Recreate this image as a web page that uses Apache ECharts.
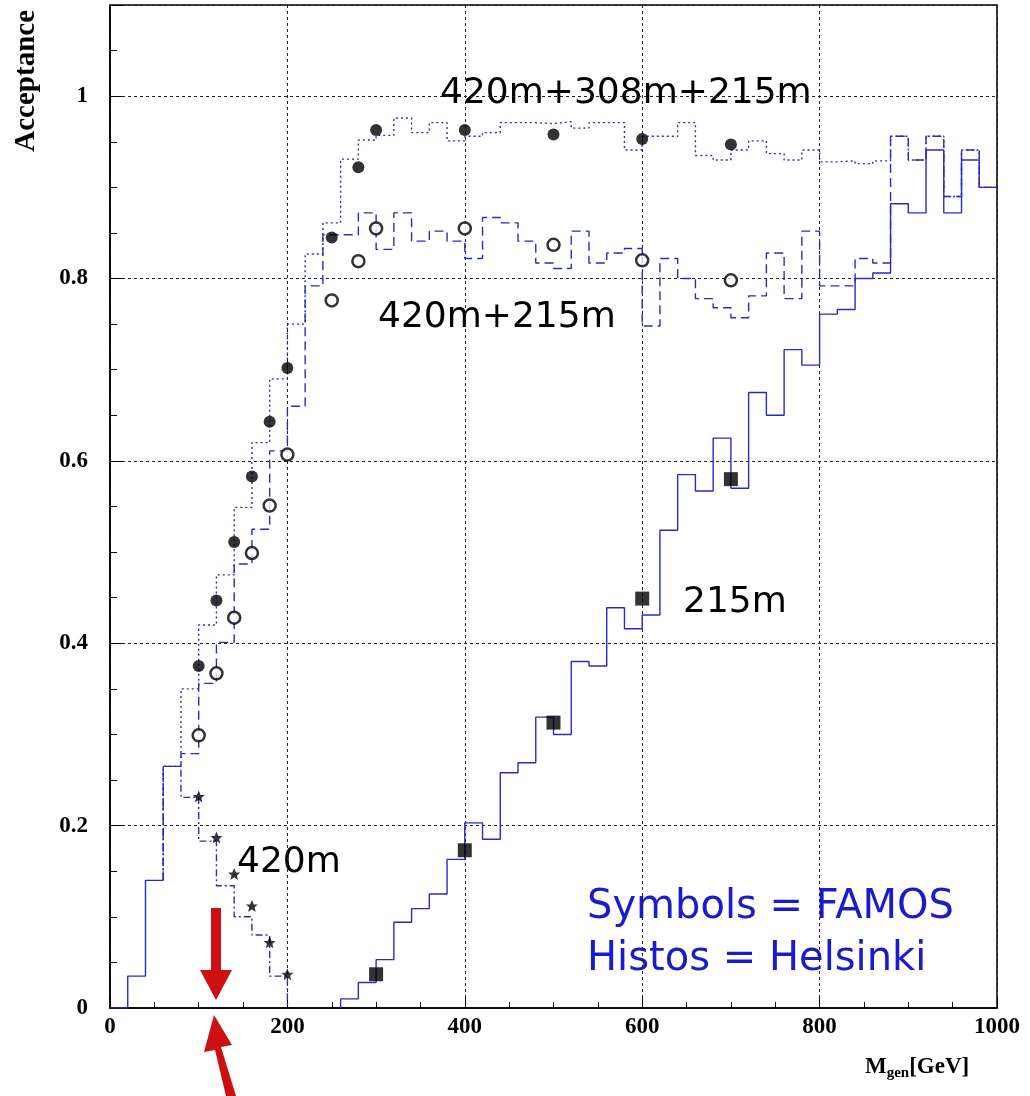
<!DOCTYPE html>
<html><head><meta charset="utf-8">
<script src="https://cdn.jsdelivr.net/npm/echarts@6/dist/echarts.min.js"></script>
<style>html,body{margin:0;padding:0;background:#fff}#c{width:1030px;height:1096px}</style>
</head><body><div id="c"></div>
<script>
const binWidth = 20;
// Histogram "215m" (solid): low-mass part and main part
const solidLowStart = 0;
const solidLow = [0, 0.035, 0.14];
const solidStart = 260;
const solidVals = [0.01,0.028,0.053,0.094,0.109,0.125,0.163,0.203,0.185,0.258,0.269,0.319,0.300,0.380,0.375,0.439,0.416,0.431,0.524,0.585,0.567,0.625,0.57,0.675,0.650,0.722,0.705,0.761,0.766,0.80,0.806,0.882,0.872,0.941,0.872,0.93,0.90];
// "420m+308m+215m" (dotted)
const dottedStart = 60;
const dottedVals = [0.265,0.350,0.420,0.475,0.549,0.620,0.690,0.75,0.827,0.861,0.931,0.952,0.957,0.976,0.960,0.971,0.951,0.956,0.960,0.971,0.971,0.970,0.972,0.965,0.971,0.971,0.941,0.956,0.956,0.971,0.935,0.930,0.941,0.951,0.937,0.930,0.941,0.928,0.929,0.926,0.929,0.956,0.93,0.956,0.89,0.941,0.90];
// "420m+215m" (dashed)
const dashedStart = 60;
const dashedVals = [0.265,0.279,0.356,0.401,0.487,0.525,0.611,0.66,0.792,0.848,0.848,0.872,0.832,0.872,0.841,0.852,0.841,0.822,0.867,0.861,0.841,0.817,0.811,0.852,0.817,0.828,0.833,0.748,0.822,0.800,0.778,0.768,0.757,0.781,0.828,0.778,0.852,0.792,0.792,0.822,0.817,0.956,0.93,0.956,0.89,0.941,0.90];
// "420m" (dash-dot)
const ddStart = 60;
const ddVals = [0.265,0.231,0.183,0.134,0.100,0.080,0.035];
// FAMOS symbols
const fullX = [100,120,140,160,180,200,250,280,300,400,500,600,700];
const fullY = [0.375,0.447,0.511,0.583,0.643,0.702,0.845,0.922,0.963,0.963,0.958,0.953,0.947];
const openX = [100,120,140,160,180,200,250,280,300,400,500,600,700];
const openY = [0.299,0.367,0.428,0.499,0.551,0.607,0.776,0.819,0.855,0.855,0.837,0.820,0.798];
const starX = [100,120,140,160,180,200];
const starY = [0.232,0.187,0.147,0.112,0.072,0.037];
const sqX = [300,400,500,600,700];
const sqY = [0.037,0.173,0.313,0.449,0.58];
const xTicks = [0,200,400,600,800,1000];
const yTicks = [0,0.2,0.4,0.6,0.8,1];

function steps(start, vals, base, endBase){
  const pts = [[start, base]];
  vals.forEach((v,i)=>{ pts.push([start+i*binWidth, v]); pts.push([start+(i+1)*binWidth, v]); });
  if (endBase !== undefined) pts.push([start+vals.length*binWidth, endBase]);
  return pts;
}
const blue = '#2a2ac8';
function hist(data, type){
  return {type:'line', data, showSymbol:false, symbol:'none', silent:true,
    lineStyle:{color:blue, width:1.4, type}, z:3};
}
function pts(xs, ys){ return xs.map((x,i)=>[x, ys[i]]); }
const serif = 'Liberation Serif';
const chart = echarts.init(document.getElementById('c'));
chart.setOption({
  animation:false,
  grid:{left:110, right:33, top:5, bottom:88, show:true, borderColor:'#000', borderWidth:1.5},
  xAxis:{type:'value', min:0, max:1000, interval:200,
    axisLine:{show:true, lineStyle:{color:'#000', width:1.5}},
    axisTick:{inside:true, length:10, lineStyle:{color:'#000'}},
    minorTick:{show:true, splitNumber:4, length:6, lineStyle:{color:'#000'}},
    axisLabel:{fontFamily:serif, fontWeight:'bold', fontSize:23, color:'#000', margin:8,
      formatter:v=>xTicks.includes(v)?String(v):''},
    splitLine:{show:true, lineStyle:{color:'#222', type:[3,3], width:1}}},
  yAxis:{type:'value', min:0, max:1.1, interval:0.2,
    axisLine:{show:true, lineStyle:{color:'#000', width:1.5}},
    axisTick:{inside:true, length:12, lineStyle:{color:'#000'}},
    minorTick:{show:true, splitNumber:4, length:7, lineStyle:{color:'#000'}},
    axisLabel:{fontFamily:serif, fontWeight:'bold', fontSize:23, color:'#000', margin:22, showMaxLabel:false,
      formatter:v=>{const t=yTicks.find(k=>Math.abs(k-v)<1e-6); return t===undefined?'':String(t);}},
    splitLine:{show:true, lineStyle:{color:'#222', type:[3,3], width:1}}},
  series:[
    hist(steps(solidLowStart, solidLow, 0), 'solid'),
    hist(steps(solidStart, solidVals, 0), 'solid'),
    hist(steps(dottedStart, dottedVals, solidLow[solidLow.length-1]), [2,3]),
    hist(steps(dashedStart, dashedVals, solidLow[solidLow.length-1]), [9,5]),
    hist(steps(ddStart, ddVals, solidLow[solidLow.length-1], 0), [7,3,2,3]),
    {type:'scatter', data:pts(fullX, fullY), symbol:'circle', symbolSize:12, itemStyle:{color:'#000'}, z:5},
    {type:'scatter', data:pts(openX, openY), symbol:'circle', symbolSize:12, itemStyle:{color:'#fff', borderColor:'#000', borderWidth:2.5}, z:5},
    {type:'scatter', data:pts(starX, starY), symbol:'path://M0,-10 L2.9,-3.1 L9.5,-3.1 L4.3,1.2 L5.9,8.1 L0,4 L-5.9,8.1 L-4.3,1.2 L-9.5,-3.1 L-2.9,-3.1 Z', symbolSize:12, itemStyle:{color:'#000'}, z:5},
    {type:'scatter', data:pts(sqX, sqY), symbol:'rect', symbolSize:14, itemStyle:{color:'#000'}, z:5}
  ],
  graphic:[
    {type:'text', left:12, top:10, rotation:Math.PI/2, style:{text:'Acceptance', font:'bold 29px "Liberation Serif"', fill:'#000'}},
    {type:'text', left:865, top:1056, style:{rich:{a:{font:'bold 23px "Liberation Serif"', fill:'#000'}, s:{font:'bold 15px "Liberation Serif"', fill:'#000', padding:[12,0,0,0]}}, text:'{a|M}{s|gen}{a|[GeV]}'}},
    {type:'text', left:440, top:76, style:{text:'420m+308m+215m', font:'36px "DejaVu Sans"', fill:'#000'}},
    {type:'text', left:378, top:300, style:{text:'420m+215m', font:'36px "DejaVu Sans"', fill:'#000'}},
    {type:'text', left:683, top:585, style:{text:'215m', font:'36px "DejaVu Sans"', fill:'#000'}},
    {type:'text', left:237, top:845, style:{text:'420m', font:'36px "DejaVu Sans"', fill:'#000'}},
    {type:'text', left:587, top:888, style:{text:'Symbols = FAMOS', font:'40px "DejaVu Sans"', fill:'#1a1ad0'}},
    {type:'text', left:587, top:940, style:{text:'Histos = Helsinki', font:'40px "DejaVu Sans"', fill:'#1a1ad0'}},
    {type:'polygon', shape:{points:[[211,908],[221,908],[221,970],[232,970],[216,1000],[200,970],[211,970]]}, style:{fill:'#cc1010'}, z:10},
    {type:'polygon', shape:{points:[[236,1096],[226,1096],[215,1050],[204,1052],[214,1015],[232,1045],[221,1047],[236,1096]]}, style:{fill:'#cc1010'}, z:10}
  ]
});
</script></body></html>
